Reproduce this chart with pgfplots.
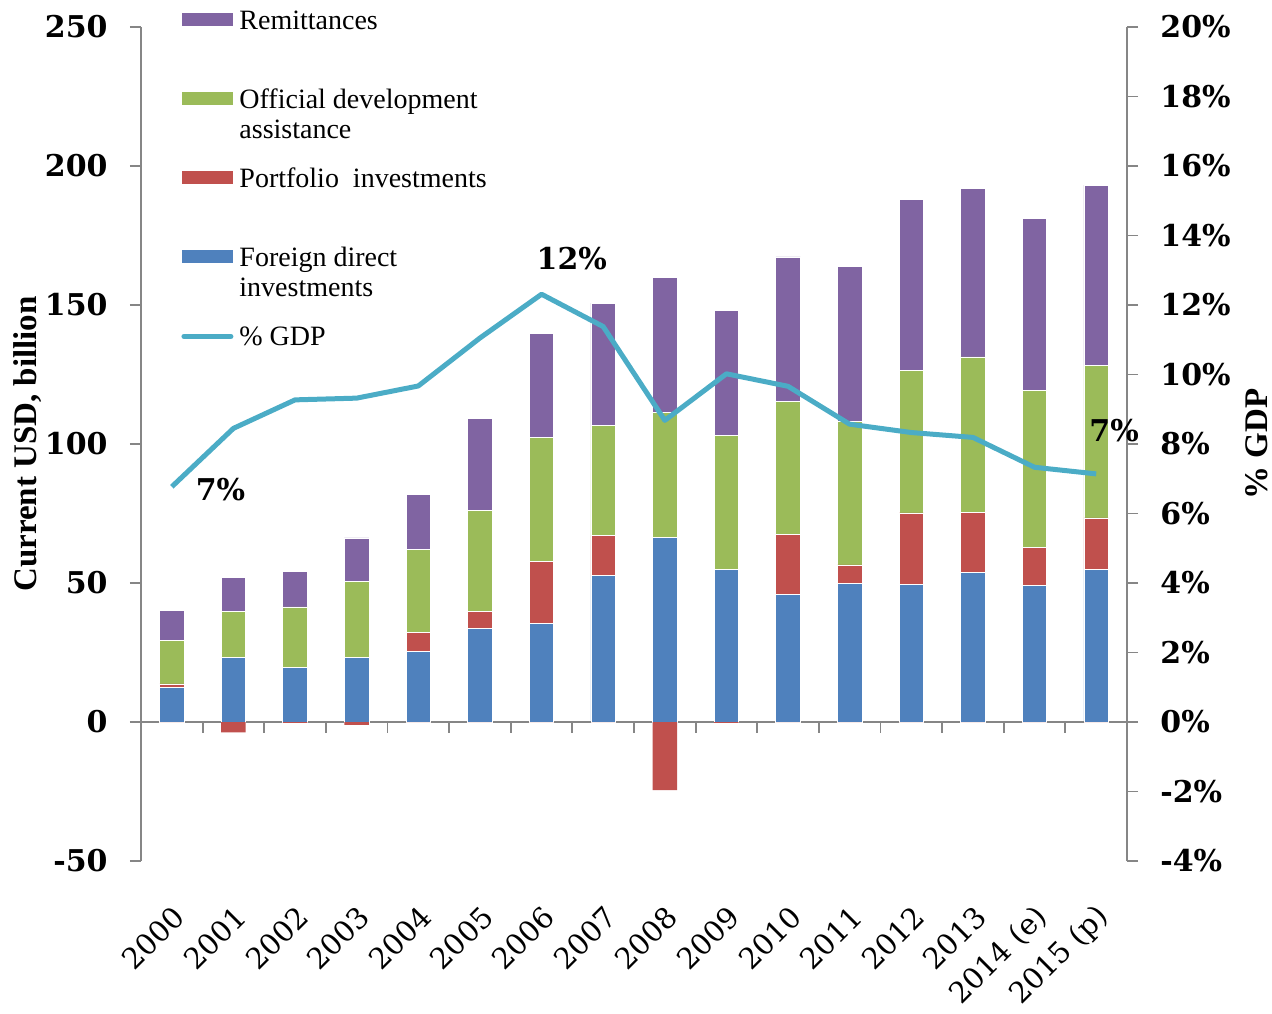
\documentclass[border=0pt]{standalone}
\usepackage{pgfplots}
\pgfplotsset{compat=1.18}
\usepackage{pgfplotstable}
\usepackage{fontspec}
\setmainfont{Liberation Serif}
\newfontfamily\dvs{DejaVu Serif}

\definecolor{fdicol}{HTML}{4F81BD}
\definecolor{portcol}{HTML}{C0504D}
\definecolor{odacol}{HTML}{9BBB59}
\definecolor{remcol}{HTML}{8064A2}
\definecolor{gdpcol}{HTML}{4BACC6}
\definecolor{axgray}{HTML}{868686}

\newcommand\ytfont{\dvs\bfseries\fontsize{15}{18}\selectfont}
\newcommand\xtfont{\dvs\fontsize{14.5}{18}\selectfont}
\newcommand\legfont{\fontsize{14}{15}\selectfont}
\newcommand\labfont{\bfseries\fontsize{16.5}{20}\selectfont}

% x = category index (2000 ... 2015), values in billion USD, gdp in %
\pgfplotstableread{
x  fdi  port oda  rem  neg   gdp
0  12.3 1.4  15.7 10.8 0     6.77
1  23.1 0    16.8 12.1 -3.7  8.45
2  19.7 0    21.7 12.6 -0.3  9.27
3  23.1 0    27.6 15.5 -1.0  9.32
4  25.3 6.8  30.1 19.5 0     9.67
5  33.6 6.3  36.1 33.2 0     11.05
6  35.3 22.3 44.9 37.2 0     12.31
7  52.6 14.4 39.7 44.0 0     11.38
8  66.4 0    45.0 48.4 -24.5 8.68
9  54.9 0    48.1 45.2 -0.3  10.02
10 45.9 21.5 48.0 51.9 0     9.66
11 49.7 6.8  51.6 55.8 0     8.57
12 49.5 25.7 51.4 61.3 0     8.33
13 53.9 21.6 55.8 60.7 0     8.19
14 49.1 13.6 56.6 61.8 0     7.33
15 54.9 18.5 54.9 64.8 0     7.14
}\flows

\pgfplotsset{
  base/.style={scale only axis, width=493pt, height=417pt, xmin=-0.5, xmax=15.5},
  barleg/.style={legend image code/.code={\fill[##1, draw=none] (0pt,1.5pt) rectangle (25.5pt,8pt);}},
  linleg/.style={legend image code/.code={\draw[##1] (1pt,4.5pt) -- (24.5pt,4.5pt);}},
  seg/.style={fill=#1, draw=white, line width=0.4pt},
}

\begin{document}
\begin{tikzpicture}
\begin{axis}[base, ybar stacked, bar width=12.25pt,
  ymin=-50, ymax=250,
  axis y line*=left, axis x line*=bottom,
  x axis line style={draw=none},
  xtick={0,...,15},
  xticklabels={2000,2001,2002,2003,2004,2005,2006,2007,2008,2009,2010,2011,2012,2013,2014 (e),2015 (p)},
  x tick style={draw=none},
  ytick={-50,0,50,100,150,200,250},
  yticklabels={-50,0,50,100,150,200,250},
  y axis line style={axgray, line width=0.9pt},
  y tick style={axgray, line width=0.9pt},
  tick align=outside, major tick length=5.5pt,
  yticklabel style={font=\ytfont, inner sep=0pt, xshift=-11pt},
  xticklabel style={font=\xtfont, inner sep=0pt, xshift=4pt, yshift=-20pt, rotate=45, anchor=east},
  ylabel={Current USD, billion},
  every axis y label/.style={at={(axis description cs:-0.1146,0.5)}, rotate=90, anchor=center, font=\labfont},
  legend cell align=left,
  legend style={at={(axis description cs:0.0406,1.0216)}, anchor=north west,
    draw=none, fill=none, inner sep=0pt, row sep=9.5pt, column sep=3pt, font=\legfont,
    nodes={inner sep=0pt, text height=10pt, text depth=20pt, anchor=base west}},
]
\addlegendimage{barleg, fill=remcol}
\addlegendentry{Remittances}
\addlegendimage{barleg, fill=odacol}
\addlegendentry{\begin{tabular}[t]{@{}l@{}}Official development\\assistance\end{tabular}}
\addlegendimage{barleg, fill=portcol}
\addlegendentry{Portfolio\ \ investments}
\addlegendimage{barleg, fill=fdicol}
\addlegendentry{\begin{tabular}[t]{@{}l@{}}Foreign direct\\investments\end{tabular}}
\addlegendimage{linleg, gdpcol, line width=2.5pt, line cap=round}
\addlegendentry{\% GDP}

\addplot[seg=fdicol, forget plot] table[x=x, y=fdi] {\flows};
\addplot[seg=portcol, forget plot] table[x=x, y=port] {\flows};
\addplot[seg=odacol, forget plot] table[x=x, y=oda] {\flows};
\addplot[seg=remcol, forget plot] table[x=x, y=rem] {\flows};

\draw[axgray, line width=0.9pt] (axis cs:-0.5,0) -- (axis cs:15.5,0);
\pgfplotsinvokeforeach{0.5,1.5,...,14.5}{\draw[axgray, line width=0.9pt] (axis cs:#1,0) -- ++(0pt,-5.5pt);}
\end{axis}

% negative portfolio flows, drawn below zero
\begin{axis}[base, hide axis, ymin=-50, ymax=250, ybar, bar width=12.25pt]
\addplot[fill=portcol, draw=none] table[x=x, y=neg] {\flows};
\end{axis}

% share of GDP on the right axis
\begin{axis}[base, ymin=-4, ymax=20, clip=false,
  axis y line*=right, axis x line=none,
  ytick={-4,-2,...,20},
  yticklabels={-4\%,-2\%,0\%,2\%,4\%,6\%,8\%,10\%,12\%,14\%,16\%,18\%,20\%},
  y axis line style={axgray, line width=0.9pt},
  y tick style={axgray, line width=0.9pt},
  tick align=outside, major tick length=5.5pt,
  yticklabel style={font=\ytfont, inner sep=0pt, xshift=11pt},
  ylabel={\% GDP},
  every axis y label/.style={at={(axis description cs:1.132,0.5)}, rotate=90, anchor=center, font=\labfont},
]
\addplot[gdpcol, line width=2.5pt, line join=round, mark=none] table[x=x, y=gdp] {\flows};
\node[font=\ytfont] at (axis cs:0.79,6.70) {7\%};
\node[font=\ytfont] at (axis cs:6.49,13.35) {12\%};
\node[font=\ytfont] at (axis cs:15.29,8.40) {7\%};
\end{axis}

\pgfresetboundingbox
\path[use as bounding box] (-70.5pt,-76pt) rectangle (565.5pt,430.5pt);
\end{tikzpicture}
\end{document}
